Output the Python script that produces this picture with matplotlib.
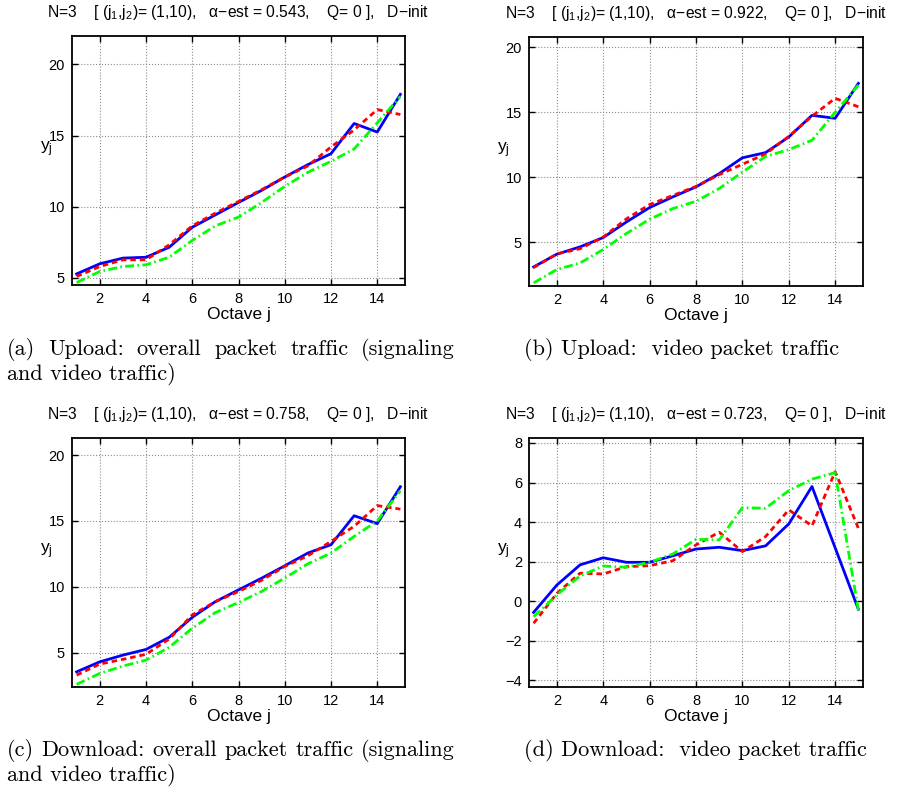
import numpy as np
import matplotlib
matplotlib.use('Agg')
import matplotlib.pyplot as plt

plt.rcParams['font.family'] = ['Liberation Sans', 'DejaVu Sans']
plt.rcParams['mathtext.fontset'] = 'custom'
plt.rcParams['mathtext.rm'] = 'Liberation Sans'
plt.rcParams['mathtext.it'] = 'Liberation Sans:italic'
plt.rcParams['axes.unicode_minus'] = True

# ========== data ==========
octave = np.arange(1, 16)

# (a) upload, overall traffic
a_blue = [5.28, 5.99, 6.39, 6.45, 7.15, 8.56, 9.43, 10.3, 11.15, 12.09, 12.96, 13.73, 15.85, 15.25, 17.9]
a_red = [5.1, 5.8, 6.27, 6.27, 7.32, 8.66, 9.55, 10.37, 11.2, 12.09, 12.87, 14.2, 15.4, 16.83, 16.48]
a_green = [4.67, 5.45, 5.8, 5.92, 6.45, 7.63, 8.66, 9.27, 10.3, 11.43, 12.42, 13.19, 14.06, 15.9, 17.75]

# (b) upload, video traffic
b_blue = [3.1, 4.08, 4.64, 5.36, 6.56, 7.67, 8.49, 9.26, 10.28, 11.5, 11.9, 13.1, 14.77, 14.54, 17.23]
b_red = [3.05, 4.1, 4.5, 5.4, 6.8, 7.9, 8.6, 9.3, 10.2, 11.0, 11.8, 13.15, 14.7, 16.08, 15.43]
b_green = [1.87, 2.9, 3.4, 4.44, 5.67, 6.77, 7.59, 8.15, 9.13, 10.4, 11.6, 12.13, 12.85, 15.0, 17.1]

# (c) download, overall traffic
c_blue = [3.55, 4.31, 4.82, 5.25, 6.17, 7.69, 8.88, 9.77, 10.66, 11.6, 12.57, 13.2, 15.4, 14.8, 17.6]
c_red = [3.3, 4.14, 4.5, 4.88, 6.04, 7.87, 8.88, 9.65, 10.5, 11.55, 12.36, 13.45, 14.6, 16.17, 15.9]
c_green = [2.6, 3.43, 3.99, 4.44, 5.41, 6.86, 8.05, 8.81, 9.65, 10.67, 11.75, 12.57, 13.83, 15.0, 17.3]

# (d) download, video traffic
d_blue = [-0.56, 0.82, 1.84, 2.2, 1.97, 1.97, 2.3, 2.64, 2.73, 2.56, 2.8, 3.91, 5.8, 2.7, -0.4]
d_red = [-1.11, 0.4, 1.42, 1.38, 1.75, 1.8, 2.05, 2.85, 3.49, 2.51, 3.27, 4.62, 3.81, 6.55, 3.69]
d_green = [-0.78, 0.32, 1.28, 1.78, 1.72, 1.97, 2.39, 3.13, 3.1, 4.73, 4.7, 5.59, 6.17, 6.5, -0.45]

alpha_est = ['0.543', '0.922', '0.758', '0.723']
caption_line1 = ['(a) Upload:  overall packet traffic (signaling',
                 '(b) Upload:  video packet traffic',
                 '(c) Download:  overall packet traffic (signaling',
                 '(d) Download:  video packet traffic']
caption_line2 = ['and video traffic)', '', 'and video traffic)', '']
ylims = [(4.5, 22.0), (1.63, 20.8), (2.4, 21.3), (-4.33, 8.25)]
yticks = [[5, 10, 15, 20], [5, 10, 15, 20], [5, 10, 15, 20], [-4, -2, 0, 2, 4, 6, 8]]
series = [(a_blue, a_red, a_green), (b_blue, b_red, b_green),
          (c_blue, c_red, c_green), (d_blue, d_red, d_green)]

# ========== figure ==========
W, H = 897, 792
fig = plt.figure(figsize=(W / 100, H / 100), dpi=100)
renderer = fig.canvas.get_renderer()

# axes boxes in pixels: left, top, right, bottom
boxes = [(72, 36, 405, 285), (529, 37, 863, 286),
         (72, 438, 405, 687), (529, 438, 863, 687)]
# caption: left x, baseline y of first line, right x for justified lines
cap_pos = [(7, 355, 455), (524, 355, None), (7, 756, 455), (524, 756, None)]
cap_kw = dict(fontfamily='cmr10', fontsize=16, ha='left', va='baseline')


def justified(words, x0, x1, y):
    texts = [fig.text(0, 1 - y / H, w, **cap_kw) for w in words]
    widths = [t.get_window_extent(renderer).width for t in texts]
    gap = (x1 - x0 - sum(widths)) / (len(words) - 1)
    x = x0
    for t, w in zip(texts, widths):
        t.set_x(x / W)
        x += w + gap


for i in range(4):
    l, t, r, b = boxes[i]
    ax = fig.add_axes([l / W, 1 - b / H, (r - l) / W, (b - t) / H])
    blue, red, green = series[i]
    ax.plot(octave, blue, '-', color=(0, 0, 1), lw=2)
    ax.plot(octave, red, '--', color=(1, 0, 0), lw=2, dashes=(2, 1.4))
    ax.plot(octave, green, '-.', color=(0, 1, 0), lw=2, dashes=(3.2, 1.2, 0.6, 1.2))

    ax.set_xlim(0.8, 15.2)
    ax.set_ylim(*ylims[i])
    ax.set_xticks(range(2, 15, 2))
    ax.set_yticks(yticks[i])
    ax.grid(True, linestyle=':', color='0.55', linewidth=0.8)
    ax.tick_params(direction='in', top=True, right=True, length=4, width=1,
                   labelsize=10.5, pad=5)
    for s in ax.spines.values():
        s.set_linewidth(1.3)

    ax.set_xlabel('Octave j', fontsize=12.5, labelpad=1)
    ax.set_ylabel(r'y$_\mathrm{j}$', fontsize=12.5, rotation=0, ha='center', va='center')
    ax.yaxis.set_label_coords(-0.078, 0.546)
    ax.set_title('N=3    [ (j$_1$,j$_2$)= (1,10),   α−est = ' + alpha_est[i]
                 + ',    Q= 0 ],   D−init', fontsize=11.25, pad=13.5)

    cx, cy, cx1 = cap_pos[i]
    if cx1 is None:
        fig.text(cx / W, 1 - cy / H, caption_line1[i], **cap_kw)
    else:
        justified(caption_line1[i].split(), cx, cx1, cy)
    if caption_line2[i]:
        fig.text(cx / W, 1 - (cy + 25) / H, caption_line2[i], **cap_kw)

plt.savefig('out.png', dpi=100)
